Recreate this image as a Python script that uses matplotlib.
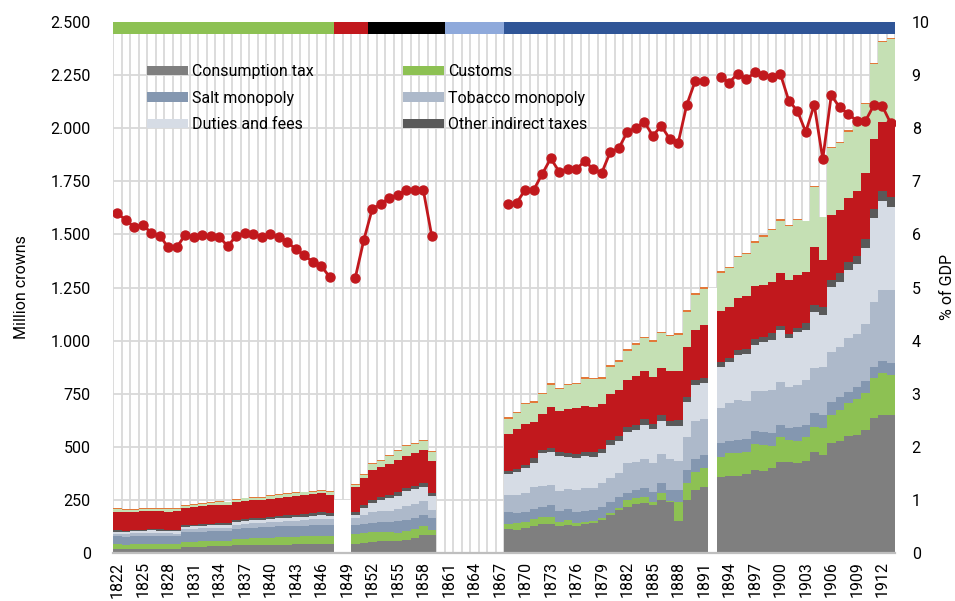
import numpy as np
import matplotlib
matplotlib.use("Agg")
import matplotlib.pyplot as plt
from matplotlib import font_manager
from matplotlib.patches import Patch
from matplotlib.ticker import FuncFormatter

# years on the x axis
years = list(range(1822, 1914))

N = None
# million crowns, None where no data (1848-49, 1860-67, 1892)
consumption = [20, 19, 20, 21, 21, 21, 20, 20, 28, 29, 30, 31, 31, 31, 36, 37, 38, 38, 39, 40, 40, 41, 41, 42, 42, 42,
               N, N,
               44, 47, 53, 55, 56, 56, 63, 72, 85, 83,
               N, N, N, N, N, N, N, N,
               111, 108, 119, 129, 136, 136, 127, 132, 129, 136, 143, 155, 179, 202, 218, 229, 234, 226, 249, 238, 152, 249, 297, 312,
               N,
               356, 362, 364, 372, 391, 386, 399, 430, 430, 425, 435, 477, 461, 516, 529, 551, 555, 579, 634, 650, 650]
customs = [22, 21, 22, 22, 23, 22, 22, 21, 24, 25, 25, 25, 26, 25, 30, 31, 32, 33, 33, 34, 35, 36, 37, 38, 40, 38,
           N, N,
           45, 47, 47, 44, 41, 40, 39, 41, 41, 27,
           N, N, N, N, N, N, N, N,
           26, 32, 28, 31, 32, 35, 20, 23, 14, 11, 9, 8, 8, 8, 31, 28, 31, 16, 32, 8, 90, 82, 86, 87,
           N,
           94, 107, 108, 103, 122, 122, 105, 114, 102, 102, 109, 118, 126, 134, 144, 154, 168, 173, 188, 196, 188]
salt = [36, 36, 37, 37, 38, 38, 38, 37, 45, 45, 46, 46, 47, 46, 48, 49, 50, 50, 51, 51, 51, 51, 51, 51, 50, 50,
        N, N,
        44, 44, 41, 45, 47, 53, 55, 52, 54, 55,
        N, N, N, N, N, N, N, N,
        56, 47, 44, 46, 50, 53, 52, 51, 50, 52, 50, 55, 55, 52, 35, 40, 39, 47, 50, 51, 55, 60, 58, 62,
        N,
        66, 60, 60, 60, 63, 60, 59, 58, 55, 68, 58, 62, 63, 63, 63, 54, 57, 59, 52, 59, 58]
tobacco = [12, 12, 13, 13, 13, 13, 13, 13, 15, 15, 16, 16, 16, 16, 18, 19, 20, 21, 22, 23, 24, 25, 26, 27, 28, 28,
           N, N,
           32, 42, 50, 52, 55, 57, 66, 67, 63, 39,
           N, N, N, N, N, N, N, N,
           80, 86, 93, 103, 99, 96, 94, 94, 104, 105, 106, 110, 109, 113, 138, 133, 137, 136, 135, 144, 138, 157, 182, 168,
           N,
           165, 175, 188, 182, 188, 196, 204, 203, 193, 196, 212, 212, 227, 235, 235, 251, 251, 267, 309, 333, 342]
duties = [11, 11, 11, 11, 11, 11, 11, 11, 12, 12, 12, 13, 13, 13, 13, 14, 14, 14, 15, 15, 15, 16, 16, 16, 17, 17,
          N, N,
          15, 32, 44, 52, 60, 64, 67, 69, 68, 66,
          N, N, N, N, N, N, N, N,
          99, 110, 115, 116, 152, 157, 164, 153, 152, 154, 145, 141, 157, 152, 149, 149, 161, 157, 157, 157, 163, 164, 168, 170,
          N,
          196, 197, 212, 220, 215, 231, 236, 245, 230, 251, 236, 267, 243, 304, 307, 322, 329, 358, 394, 421, 391]
other = [6, 6, 6, 6, 6, 6, 6, 6, 7, 7, 7, 7, 8, 8, 9, 9, 9, 10, 10, 11, 12, 12, 13, 13, 14, 14,
         N, N,
         13, 14, 13, 16, 16, 16, 16, 16, 19, 13,
         N, N, N, N, N, N, N, N,
         12, 12, 15, 21, 16, 17, 20, 16, 15, 19, 21, 21, 24, 24, 24, 23, 27, 24, 27, 25, 28, 24, 23, 23,
         N,
         20, 15, 23, 22, 27, 23, 31, 18, 21, 15, 31, 32, 38, 33, 40, 39, 38, 42, 43, 47, 47]
red_part = [87, 86, 82, 87, 84, 86, 84, 89, 79, 83, 83, 86, 86, 87, 84, 85, 85, 83, 85, 86, 89, 89, 89, 90, 91, 85,
            N, N,
            118, 125, 144, 141, 144, 153, 152, 154, 156, 148,
            N, N, N, N, N, N, N, N,
            176, 189, 193, 169, 169, 192, 191, 207, 217, 215, 212, 211, 215, 216, 219, 231, 228, 221, 221, 232, 232, 235, 236, 251,
            N,
            244, 243, 244, 252, 251, 243, 243, 248, 254, 252, 243, 274, 220, 306, 297, 300, 308, 311, 329, 325, 348]
lgreen_part = [12, 13, 12, 12, 13, 12, 12, 12, 12, 12, 13, 13, 12, 12, 13, 13, 13, 12, 12, 12, 12, 12, 12, 12, 12, 12,
               N, N,
               9, 16, 28, 28, 39, 41, 44, 44, 43, 44,
               N, N, N, N, N, N, N, N,
               71, 73, 94, 93, 94, 106, 104, 113, 114, 128, 131, 119, 130, 134, 138, 146, 153, 168, 163, 166, 170, 165, 165, 171,
               N,
               179, 181, 193, 196, 204, 228, 243, 248, 254, 258, 239, 279, 205, 316, 315, 313, 332, 325, 353, 375, 395]
orange_part = [4] * 26 + [N, N] + [3, 5, 5, 6, 5, 5, 5, 4, 4, 5] + [N] * 8 + \
              [11, 7, 7, 6, 7, 7, 6, 6, 7, 7, 7, 7, 8, 7, 8, 8, 8, 8, 6, 7, 6, 8, 9, 8] + [N] + \
              [6, 5, 6, 7, 6, 6, 7, 7, 5, 5, 2, 6, 0, 6, 7, 6, 7, 6, 6, 6, 6]
# white filler bars
gap = [N] * 26 + [250, 250] + [N] * 42 + [1250] + [N] * 21

# % of GDP
pct_gdp = [6.40, 6.27, 6.14, 6.18, 6.03, 5.97, 5.76, 5.76, 5.99, 5.95, 5.99, 5.97, 5.95, 5.78, 5.97, 6.03, 6.01, 5.95,
           6.01, 5.95, 5.86, 5.72, 5.61, 5.48, 5.40, 5.20,
           N, N,
           5.18, 5.89, 6.48, 6.57, 6.69, 6.74, 6.84, 6.84, 6.84, 5.97,
           N, N, N, N, N, N, N, N,
           6.57, 6.60, 6.84, 6.84, 7.14, 7.43, 7.18, 7.23, 7.23, 7.38, 7.23, 7.16, 7.55, 7.62, 7.93, 8.01, 8.12, 7.86,
           8.04, 7.80, 7.73, 8.44, 8.89, 8.89,
           N,
           8.96, 8.86, 9.03, 8.92, 9.05, 9.01, 8.97, 9.03, 8.52, 8.33, 7.93, 8.44, 7.42, 8.62, 8.39, 8.27, 8.14, 8.13,
           8.43, 8.42, 8.09]

# period band on top
periods = [(1822, 1847, '#8DC153'), (1848, 1851, '#C1181D'), (1852, 1860, '#000000'),
           (1861, 1867, '#8EA9DB'), (1868, 1913, '#2F5597')]

layers = [("Consumption tax", consumption, '#7F7F7F'),
          ("Customs", customs, '#8DC153'),
          ("Salt monopoly", salt, '#8497B0'),
          ("Tobacco monopoly", tobacco, '#ADB9CA'),
          ("Duties and fees", duties, '#D6DCE5'),
          ("Other indirect taxes", other, '#595959'),
          (None, red_part, '#C1181D'),
          (None, lgreen_part, '#C5E0B4'),
          (None, orange_part, '#E2793A')]

names = {f.name for f in font_manager.fontManager.ttflist}
fam = 'Liberation Sans Narrow' if 'Liberation Sans Narrow' in names else 'Roboto'
plt.rcParams['font.family'] = [fam, 'DejaVu Sans']
plt.rcParams['text.color'] = '#000000'

def to_arr(v):
    return np.array([np.nan if a is None else a for a in v], dtype=float)

fig = plt.figure(figsize=(9.55, 6.01), dpi=100)
ax = fig.add_axes([113/955, 1-553/601, 782/955, 531/601])

x = np.array(years)
bottom = np.zeros(len(years))
handles = {}
for label, vals, col in layers:
    v = to_arr(vals)
    ax.bar(x, np.nan_to_num(v), width=1.0, bottom=bottom, color=col, linewidth=0, zorder=2)
    bottom = bottom + np.nan_to_num(v)
    if label:
        handles[label] = Patch(facecolor=col, label=label)

ax.bar(x, np.nan_to_num(to_arr(gap)), width=1.0, color='white', linewidth=0, zorder=2)

for y0, y1, col in periods:
    ax.bar(np.arange(y0, y1 + 1), 57, width=1.0, bottom=2443, color=col, linewidth=0, zorder=3)

ax.set_xlim(1821.5, 1913.5)
ax.set_ylim(0, 2500)
ax.set_yticks(np.arange(0, 2501, 250))
ax.yaxis.set_major_formatter(FuncFormatter(lambda v, p: f"{int(v):,}".replace(',', '.')))
ax.set_xticks(np.arange(1822, 1914, 3))
ax.set_xticks(np.arange(1821.5, 1914, 1), minor=True)
ax.tick_params(axis='x', which='both', length=0, rotation=90, labelsize=11.5, pad=6)
ax.tick_params(axis='y', length=0, labelsize=11.5, pad=16)
ax.grid(axis='x', which='minor', color='#D9D9D9', linewidth=1.3, zorder=0)
ax.grid(axis='y', which='major', color='#D9D9D9', linewidth=1.3, zorder=0)
ax.set_axisbelow(True)
for s in ['top', 'left', 'right']:
    ax.spines[s].set_visible(False)
ax.spines['bottom'].set_color('#BFBFBF')
ax.spines['bottom'].set_linewidth(1.6)
ax.spines['bottom'].set_zorder(4)
ax.set_ylabel("Million crowns", fontsize=11.5)
ax.yaxis.set_label_coords(-0.108, 0.5)

ax2 = ax.twinx()
ax2.plot(x, to_arr(pct_gdp), color='#C1181D', linewidth=2, marker='o', markersize=6.5, zorder=5)
ax2.set_ylim(0, 10)
ax2.set_yticks(np.arange(0, 11, 1))
ax2.tick_params(axis='y', length=0, labelsize=11.5, pad=12)
for s in ax2.spines.values():
    s.set_visible(False)
ax2.set_ylabel("% of GDP", fontsize=11.5)
ax2.yaxis.set_label_coords(1.058, 0.5)

# row-wise order like the original legend
order = ["Consumption tax", "Salt monopoly", "Duties and fees",
         "Customs", "Tobacco monopoly", "Other indirect taxes"]
leg = ax.legend(handles=[handles[k] for k in order], ncol=2, loc='upper left',
                bbox_to_anchor=(147/955, 1-64/601),
                bbox_transform=fig.transFigure, frameon=False, fontsize=11.5,
                handlelength=2.55, handleheight=0.55, handletextpad=0.25, labelspacing=0.72,
                columnspacing=5.6, borderpad=0, borderaxespad=0)
leg.set_zorder(6)

fig.savefig("out.png", dpi=100)
